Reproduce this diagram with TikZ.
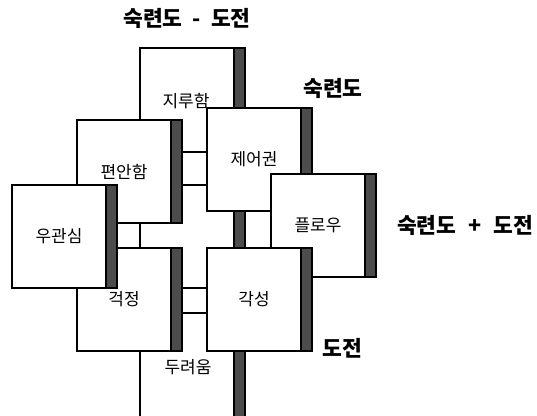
\documentclass[tikz,border=0pt]{standalone}
\usepackage{fontspec}
\setmainfont{Noto Sans CJK KR}
\usetikzlibrary{positioning}

\begin{document}
\begin{tikzpicture}[x=1pt, y=-1pt,
	tile/.style={draw, fill=white, line width=1.1pt, minimum width=94pt, minimum height=103pt, inner sep=0pt, outer sep=0pt, anchor=north west, font=\fontsize{17}{20}\selectfont},
	tilebar/.style={draw, fill=black!70, line width=1.1pt, minimum width=11pt, minimum height=103pt, inner sep=0pt, outer sep=0pt, anchor=north west},
	joint/.style={line width=1.1pt},
	axislabel/.style={font=\fontsize{21.5}{25}\selectfont\bfseries, inner sep=0pt}]
	\useasboundingbox (0,0) rectangle (537,415);

	% central column behind everything
	\node[tile, minimum height=372pt] (column) at (140,48) {};
	\node[tilebar, minimum height=372pt] (columnbar) at (column.north east) {};
	\node[font=\fontsize{17}{20}\selectfont] (jiru) at (186,101) {지루함};
	\node[font=\fontsize{17}{20}\selectfont] (duryeo) at (188,367) {두려움};

	% inner tiles
	\node[tile] (pyeon) at (77,120) {편안함};
	\node[tilebar] (pyeonbar) at (pyeon.north east) {};
	\node[tile] (jeeo) at (207,108) {제어권};
	\node[tilebar] (jeeobar) at (jeeo.north east) {};
	\node[tile] (geok) at (77,248) {걱정};
	\node[tilebar] (geokbar) at (geok.north east) {};

	% outer tiles
	\node[tile] (ugwan) at (12,185) {우관심};
	\node[tilebar] (ugwanbar) at (ugwan.north east) {};
	\node[tile] (flow) at (271,174) {플로우};
	\node[tilebar] (flowbar) at (flow.north east) {};
	\node[tile] (gak) at (207,248) {각성};
	\node[tilebar] (gakbar) at (gak.north east) {};

	% joints in the gaps
	\draw[joint] (pyeonbar.east |- 0,152) -- (jeeo.west |- 0,152);
	\draw[joint] (pyeonbar.east |- 0,185) -- (jeeo.west |- 0,185);
	\draw[joint] (geokbar.east |- 0,288) -- (gak.west |- 0,288);
	\draw[joint] (geokbar.east |- 0,313) -- (gak.west |- 0,313);

	% axis labels
	\node[axislabel] (diff) at (187,18) {숙련도\hspace{10pt}-\hspace{10pt}도전};
	\node[axislabel] (skill) at (333,88) {숙련도};
	\node[axislabel, anchor=west] (sum) at (397,225) {숙련도\hspace{12pt}+\hspace{12pt}도전};
	\node[axislabel] (chal) at (342,348) {도전};
\end{tikzpicture}
\end{document}
